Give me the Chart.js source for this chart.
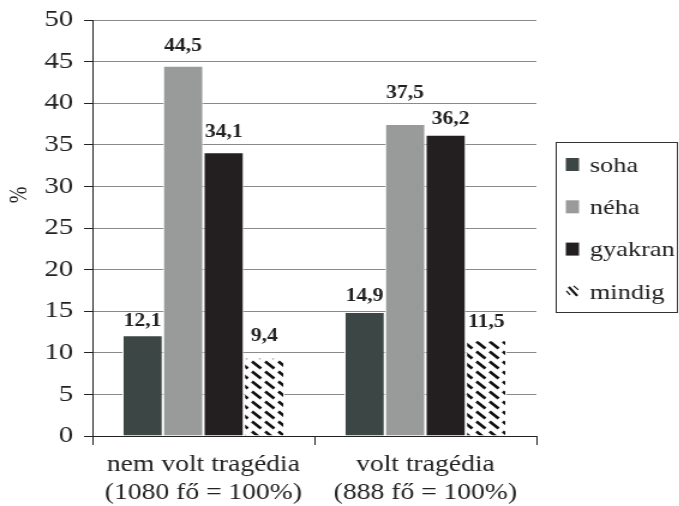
<!DOCTYPE html>
<html>
<head>
<meta charset="utf-8">
<script src="https://cdn.jsdelivr.net/npm/chart.js"></script>
<style>
  html, body { margin: 0; padding: 0; background: #fff; overflow: hidden; }
  /* a diagram vízszintesen kissé széthúzva jelenik meg */
  #wrap { width: 566px; height: 506px; transform: scaleX(1.2); transform-origin: 0 0; }
</style>
</head>
<body>
<div id="wrap"><canvas id="grafikon" width="566" height="506"></canvas></div>
<script>
// csoportok és sorozatok
const kategoriak = [['nem volt tragédia', '(1080 fő = 100%)'], ['volt tragédia', '(888 fő = 100%)']];
const sorozatNevek = ['soha', 'néha', 'gyakran', 'mindig'];
const soha = [12.1, 14.9];
const neha = [44.5, 37.5];
const gyakran = [34.1, 36.2];
const mindig = [9.4, 11.5];
const yTickek = [0, 5, 10, 15, 20, 25, 30, 35, 40, 45, 50];

const betu = '"Liberation Serif", "Times New Roman", serif';

// ferde csíkos minta a "mindig" oszlopokhoz
function csikosMinta() {
  const c = document.createElement('canvas');
  c.width = 11; c.height = 10;
  const g = c.getContext('2d');
  g.fillStyle = '#fff';
  g.fillRect(0, 0, 11, 10);
  g.strokeStyle = '#111';
  g.lineWidth = 2.6;
  g.beginPath();
  g.moveTo(1, 1.5); g.lineTo(8.5, 8.5);
  g.stroke();
  return g.createPattern(c, 'repeat');
}
const minta = csikosMinta();

const szinek = ['#3c4644', '#999a9a', '#231f20', minta];

// címkék távolsága az oszlop tetejétől (px)
const cimkeTav = [[14, 19, 20, 21], [16, 31, 15, 18]];

// értékcímkék az oszlopok fölött (tizedesvesszővel)
const ertekCimkek = {
  id: 'ertekCimkek',
  afterDatasetsDraw(chart) {
    const ctx = chart.ctx;
    ctx.save();
    ctx.font = 'bold 18px ' + betu;
    ctx.fillStyle = '#222';
    ctx.textAlign = 'center';
    ctx.textBaseline = 'middle';
    chart.data.datasets.forEach((ds, i) => {
      chart.getDatasetMeta(i).data.forEach((bar, j) => {
        const dx = (i === 2 && j === 1) ? 4 : 0;
        ctx.fillText(ds.data[j].toFixed(1).replace('.', ','), bar.x + dx, bar.y - cimkeTav[j][i]);
      });
    });
    ctx.restore();
  }
};

// keretes jelmagyarázat jobbra, és a "%" tengelyfelirat
const jelmagyarazat = {
  id: 'jelmagyarazat',
  afterDraw(chart) {
    const ctx = chart.ctx;
    const x = 463, y = 142, w = 101, h = 170;
    ctx.save();
    ctx.strokeStyle = '#333';
    ctx.lineWidth = 1;
    ctx.strokeRect(x + 0.5, y + 0.5, w, h);
    ctx.font = '22px ' + betu;
    ctx.textBaseline = 'middle';
    chart.data.datasets.forEach((ds, i) => {
      const cy = y + 23 + i * 42.3;
      if (i === 3) {
        // a minta kis darabja
        ctx.strokeStyle = '#111';
        ctx.lineWidth = 2.2;
        ctx.beginPath();
        ctx.moveTo(474, cy - 5); ctx.lineTo(481, cy + 4);
        ctx.stroke();
        ctx.lineWidth = 1.2;
        ctx.beginPath();
        ctx.moveTo(472, cy - 1); ctx.lineTo(475, cy + 3);
        ctx.moveTo(478, cy - 6); ctx.lineTo(482, cy - 2);
        ctx.stroke();
      } else {
        ctx.fillStyle = ds.backgroundColor;
        ctx.fillRect(471.5, cy - 7, 11, 13);
      }
      ctx.fillStyle = '#222';
      ctx.fillText(ds.label, 491.5, cy + 1);
    });

    ctx.translate(17, 195);
    ctx.rotate(-Math.PI / 2);
    ctx.textAlign = 'center';
    ctx.font = '20px ' + betu;
    ctx.fillText('%', 0, 0);
    ctx.restore();
  }
};

const adatsorok = [soha, neha, gyakran, mindig].map((d, i) => ({
  label: sorozatNevek[i],
  data: d,
  backgroundColor: szinek[i],
  borderColor: '#fff',
  borderWidth: 1,
  categoryPercentage: 0.73,
  barPercentage: 1
}));

new Chart(document.getElementById('grafikon'), {
  type: 'bar',
  data: { labels: kategoriak, datasets: adatsorok },
  options: {
    responsive: false,
    animation: false,
    layout: { padding: { top: 20, right: 119, left: 0, bottom: 0 } },
    plugins: { legend: { display: false }, tooltip: { enabled: false } },
    scales: {
      x: {
        grid: { offset: true, drawOnChartArea: false, drawTicks: true, tickLength: 9, color: '#222' },
        border: { color: '#222', width: 1 },
        ticks: { font: { family: betu, size: 23, lineHeight: 1.22 }, color: '#222', padding: 6, maxRotation: 0 },
        afterFit(s) { s.height = 70; }
      },
      y: {
        min: 0, max: 50,
        afterBuildTicks(s) { s.ticks = yTickek.map(v => ({ value: v })); },
        grid: { color: '#8a8a8a', tickLength: 7, tickColor: '#222' },
        border: { color: '#222', width: 1 },
        ticks: { font: { family: betu, size: 24 }, color: '#222', padding: 9 },
        afterFit(s) { s.width = 77; s.paddingTop = 0; s.paddingBottom = 0; }
      }
    }
  },
  plugins: [ertekCimkek, jelmagyarazat]
});
</script>
</body>
</html>
